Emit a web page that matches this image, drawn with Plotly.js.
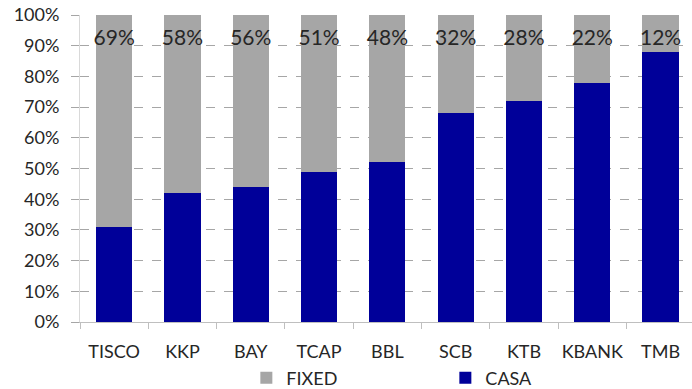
<!DOCTYPE html>
<html>
<head>
<meta charset="utf-8">
<script src="https://cdn.plot.ly/plotly-3.0.1.min.js"></script>
<style>html,body{margin:0;padding:0;background:#fff;}#chart{width:692px;height:389px;}</style>
</head>
<body>
<div id="chart"></div>
<script>
const banks = ["TISCO", "KKP", "BAY", "TCAP", "BBL", "SCB", "KTB", "KBANK", "TMB"];
const casa = [31, 42, 44, 49, 52, 68, 72, 78, 88];
const fixed = [69, 58, 56, 51, 48, 32, 28, 22, 12];
const labelLevel = banks.map(() => 92);
const fixedLabels = fixed.map(v => v + "%");

const font = {family: "Lato, 'Open Sans', sans-serif", color: "#262626"};

const traces = [
  {type: "bar", name: "CASA", x: banks, y: casa, marker: {color: "#000099"}, width: 0.53, hoverinfo: "skip"},
  {type: "bar", name: "FIXED", x: banks, y: fixed, marker: {color: "#A6A6A6"}, width: 0.53, hoverinfo: "skip"},
  {type: "scatter", mode: "text", x: banks, y: labelLevel, text: fixedLabels, textposition: "middle center",
   textfont: {family: font.family, size: 21, color: "#262626"}, showlegend: false, hoverinfo: "skip"}
];

const layout = {
  width: 692, height: 389,
  margin: {l: 80, r: 0, t: 15, b: 67},
  barmode: "stack",
  bargap: 0.47,
  paper_bgcolor: "#fff", plot_bgcolor: "#fff",
  font: Object.assign({size: 18}, font),
  showlegend: true,
  legend: {orientation: "h", traceorder: "reversed", xref: "container", yref: "container",
           x: 0.356, xanchor: "left", y: 0.028, yanchor: "middle", entrywidth: 154, entrywidthmode: "pixels",
           font: {size: 18, family: font.family, color: "#262626"}},
  xaxis: {type: "category", range: [-0.5, 8.46], showgrid: false, showline: true, linecolor: "#BFBFBF", linewidth: 1,
          ticks: "outside", tickson: "boundaries", ticklen: 6, tickcolor: "#BFBFBF", tickangle: 0,
          ticklabelstandoff: 13, tickfont: {size: 18}, zeroline: false, fixedrange: true},
  yaxis: {range: [0, 100], dtick: 10, ticksuffix: "%", showgrid: true, gridcolor: "#A6A6A6", griddash: "dash", gridwidth: 1,
          showline: true, linecolor: "#D9D9D9", linewidth: 1, ticks: "outside", ticklen: 8, tickcolor: "#A6A6A6",
          ticklabelstandoff: 8, tickfont: {size: 18}, zeroline: false, fixedrange: true}
};

Plotly.newPlot("chart", traces, layout, {displayModeBar: false, staticPlot: true});
</script>
</body>
</html>
